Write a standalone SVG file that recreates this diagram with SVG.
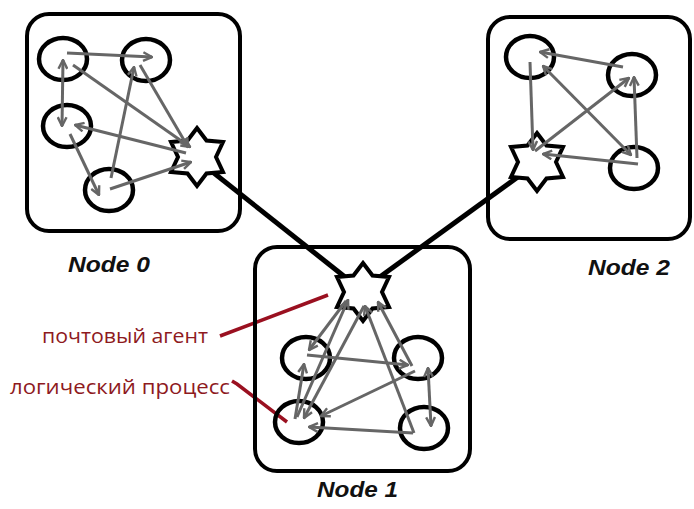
<svg xmlns="http://www.w3.org/2000/svg" xmlns:xlink="http://www.w3.org/1999/xlink" width="694" height="509" viewBox="0 0 694 509">
  <style>
    .box { fill: none; stroke: #000; stroke-width: 4; }
    .proc { fill: none; stroke: #000; stroke-width: 4.5; }
    .agent { fill: #fff; stroke: #000; stroke-width: 4; stroke-linejoin: miter; }
    .link { stroke: #000; stroke-width: 5; fill: none; }
    .msg { stroke: #666; stroke-width: 3; fill: none; marker-end: url(#head); }
    .both { marker-start: url(#head); }
    .title { font-family: "Liberation Sans", "DejaVu Sans", sans-serif; font-weight: bold; font-style: italic; font-size: 22px; fill: #111; }
    .note { font-family: "Open Sans", "Liberation Sans", sans-serif; font-size: 20px; fill: #8e1a1e; }
    .pointer { stroke: #9a1020; stroke-width: 3.5; fill: none; }
  </style>
  <defs>
    <marker id="head" viewBox="0 0 10 10" refX="9" refY="5" markerWidth="11" markerHeight="11" markerUnits="userSpaceOnUse" orient="auto-start-reverse">
      <path d="M1,1 L9,5 L1,9" fill="none" stroke="#666" stroke-width="2.2"/>
    </marker>
    <!-- six-pointed mail agent star -->
    <path id="star" d="M0,-29 L9.5,-16.5 L26,-15 L19,0 L26,15 L9.5,16.5 L0,29 L-9.5,16.5 L-26,15 L-19,0 L-26,-15 L-9.5,-16.5 Z"/>
  </defs>

  <!-- inter-node links between mail agents, and legend pointers -->
  <g id="links">
    <line class="link" x1="200" y1="162" x2="345" y2="277"/>
    <line class="link" x1="533" y1="166" x2="377" y2="279"/>
    <line class="pointer" x1="220" y1="336" x2="328" y2="295"/>
    <polyline class="pointer" points="232,381 237,384 287,422"/>
  </g>

  <!-- Node 0 -->
  <g id="node0">
    <rect class="box" x="27" y="14" width="213" height="217" rx="22"/>
    <ellipse class="proc" cx="63" cy="59" rx="24" ry="21"/>
    <ellipse class="proc" cx="146" cy="60" rx="24" ry="21"/>
    <ellipse class="proc" cx="67" cy="126" rx="24" ry="21"/>
    <ellipse class="proc" cx="109" cy="190" rx="24" ry="21"/>
    <use xlink:href="#star" class="agent" transform="translate(197,157)"/>
    <text class="title" x="68" y="272" textLength="82" lengthAdjust="spacingAndGlyphs">Node 0</text>
  </g>

  <!-- Node 2 -->
  <g id="node2">
    <rect class="box" x="488" y="17" width="202" height="222" rx="22"/>
    <ellipse class="proc" cx="530" cy="57" rx="24" ry="21"/>
    <ellipse class="proc" cx="632" cy="75" rx="24" ry="21"/>
    <ellipse class="proc" cx="634" cy="168" rx="24" ry="21"/>
    <use xlink:href="#star" class="agent" transform="translate(537,162)"/>
    <text class="title" x="588" y="275" textLength="82" lengthAdjust="spacingAndGlyphs">Node 2</text>
  </g>

  <!-- Node 1 -->
  <g id="node1">
    <rect class="box" x="255" y="247" width="215" height="224" rx="22"/>
    <ellipse class="proc" cx="306" cy="358" rx="24" ry="21"/>
    <ellipse class="proc" cx="418" cy="358" rx="24" ry="21"/>
    <ellipse class="proc" cx="299" cy="422" rx="24" ry="21"/>
    <ellipse class="proc" cx="424" cy="428" rx="24" ry="21"/>
    <use xlink:href="#star" class="agent" transform="translate(363,292)"/>
    <text class="title" x="317" y="497" textLength="81" lengthAdjust="spacingAndGlyphs">Node 1</text>
  </g>

  <!-- messages between processes and agents -->
  <g id="messages">
    <!-- Node 0 -->
    <line class="msg" x1="67" y1="53" x2="152" y2="57"/>
    <line class="msg both" x1="63" y1="60" x2="62" y2="126"/>
    <line class="msg" x1="73" y1="65" x2="190" y2="147"/>
    <line class="msg" x1="140" y1="65" x2="188" y2="147"/>
    <line class="msg" x1="111" y1="178" x2="134" y2="67"/>
    <line class="msg" x1="186" y1="153" x2="75" y2="125"/>
    <line class="msg" x1="70" y1="134" x2="99" y2="195"/>
    <line class="msg" x1="110" y1="189" x2="191" y2="162"/>
    <!-- Node 2 -->
    <line class="msg" x1="623" y1="67" x2="540" y2="52"/>
    <line class="msg" x1="530" y1="62" x2="533" y2="150"/>
    <line class="msg" x1="535" y1="151" x2="629" y2="78"/>
    <line class="msg both" x1="543" y1="66" x2="631" y2="155"/>
    <line class="msg" x1="637" y1="158" x2="634" y2="77"/>
    <line class="msg" x1="638" y1="164" x2="543" y2="154"/>
    <!-- Node 1 -->
    <line class="msg" x1="346" y1="301" x2="309" y2="350"/>
    <line class="msg" x1="297" y1="417" x2="348" y2="300"/>
    <line class="msg" x1="364" y1="306" x2="304" y2="418"/>
    <line class="msg" x1="412" y1="366" x2="378" y2="302"/>
    <line class="msg" x1="414" y1="433" x2="365" y2="306"/>
    <line class="msg" x1="295" y1="419" x2="304" y2="364"/>
    <line class="msg" x1="307" y1="355" x2="408" y2="365"/>
    <line class="msg both" x1="428" y1="368" x2="431" y2="426"/>
    <line class="msg" x1="415" y1="371" x2="321" y2="416"/>
    <line class="msg" x1="413" y1="433" x2="309" y2="427"/>
  </g>

  <!-- legend labels -->
  <g id="legend">
    <text class="note" x="42" y="343" textLength="166" lengthAdjust="spacingAndGlyphs">почтовый агент</text>
    <text class="note" x="10" y="394" textLength="220" lengthAdjust="spacingAndGlyphs">логический процесс</text>
  </g>
</svg>
